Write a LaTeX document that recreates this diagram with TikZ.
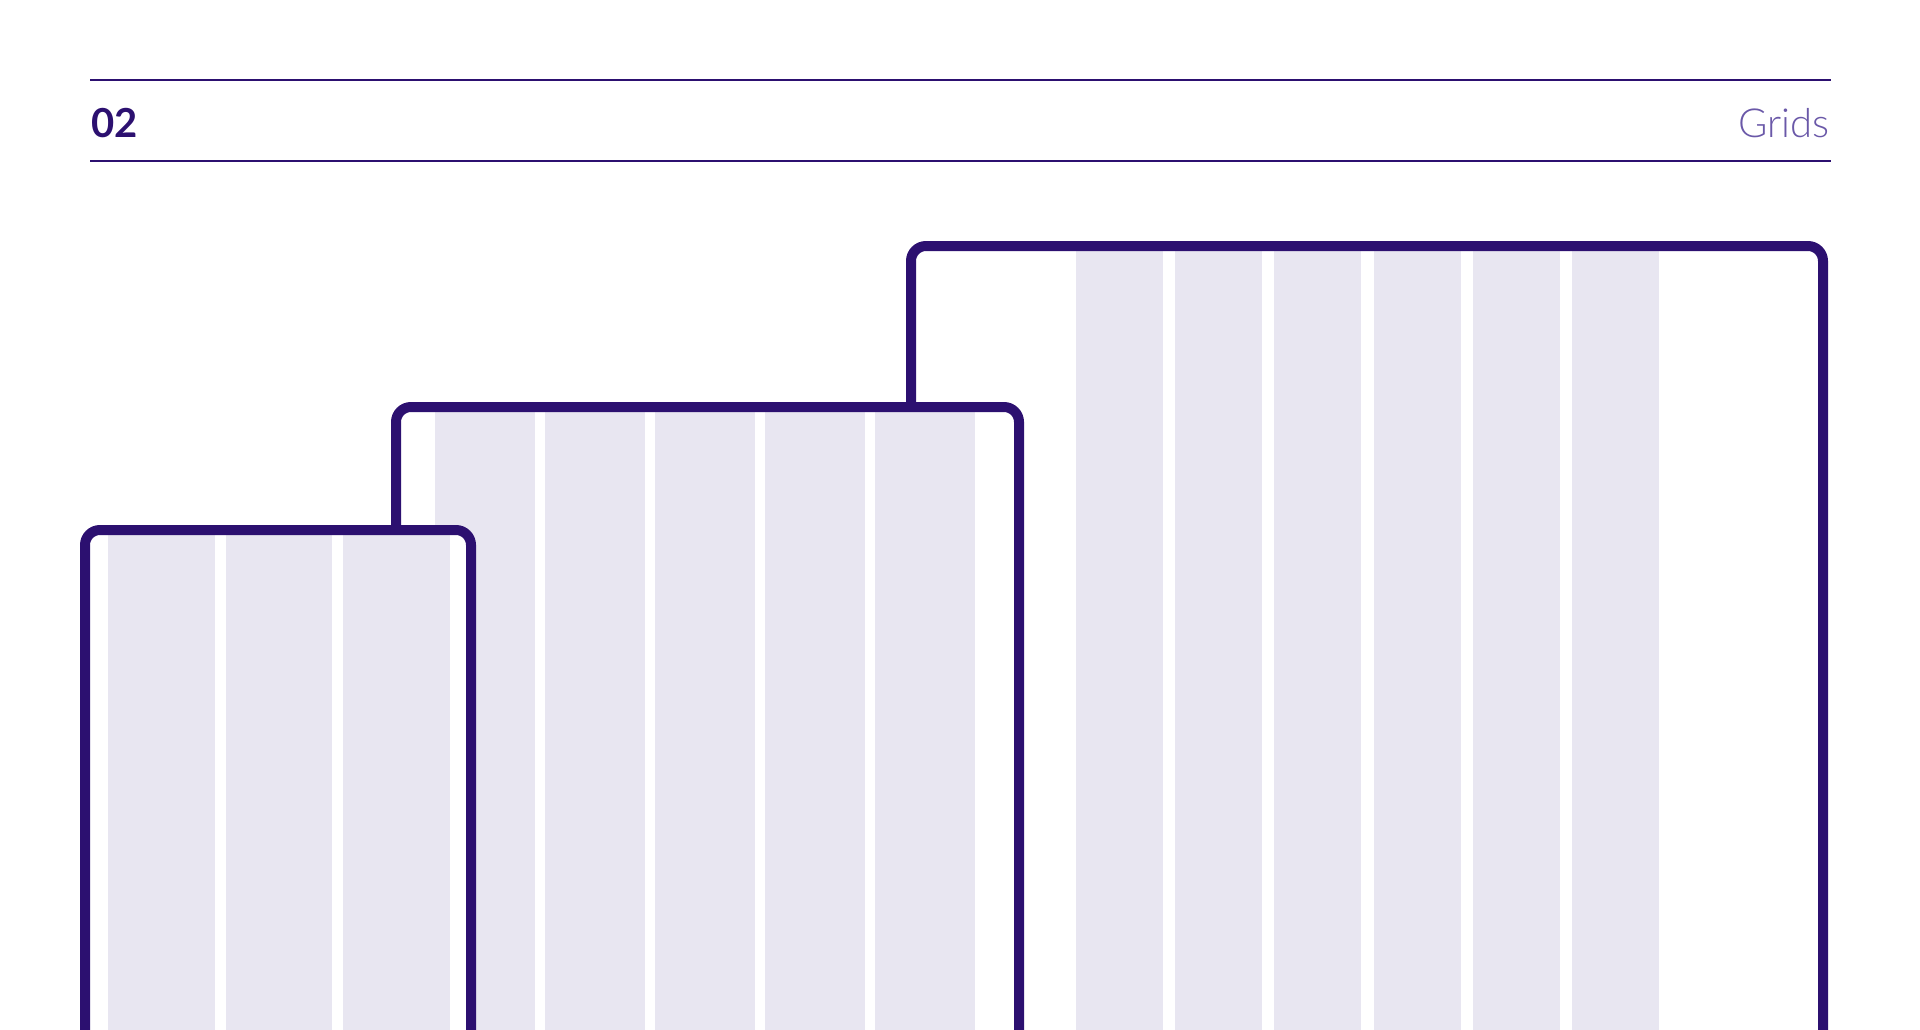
\documentclass[tikz,border=0pt]{standalone}
\usepackage{fontspec}
\setmainfont{Lato}
\newfontfamily\lightfont{Lato Light}
\definecolor{ink}{RGB}{44,16,112}
\definecolor{colfill}{RGB}{232,230,241}
\definecolor{soft}{RGB}{106,88,168}
\begin{document}
\begin{tikzpicture}[x=1pt,y=-1pt,
  frame/.style={line width=10pt, draw=ink, rounded corners=15pt},
  paper/.style={fill=white, rounded corners=15pt},
  colbar/.style={fill=colfill},
  rule/.style={draw=ink, line width=1.3pt}]
\useasboundingbox (0,0) rectangle (1920,1029);
\clip (0,0) rectangle (1920,1029);
% header
\coordinate (r1a) at (90,80);
\coordinate (r1b) at (1831,80);
\coordinate (r2a) at (90,161);
\coordinate (r2b) at (1831,161);
\draw[rule] (r1a) -- (r1b);
\draw[rule] (r2a) -- (r2b);
\node[anchor=base west, inner sep=0, text=ink, font=\bfseries\fontsize{40}{40}\selectfont] (num) at (91,137) {02};
\node[anchor=base east, inner sep=0, text=soft, font=\lightfont\fontsize{40}{40}\selectfont] (title) at (1830,137) {Grids};
% large frame
\fill[paper] (911,246) rectangle (1823,1100);
\foreach \i in {0,...,5} \fill[colbar] ({1076+99.2*\i},246) rectangle ++(87,900);
\draw[frame] (911,246) rectangle (1823,1100);
% medium frame
\fill[paper] (396,407) rectangle (1019,1100);
\foreach \i in {0,...,4} \fill[colbar] ({435+110*\i},407) rectangle ++(100,900);
\draw[frame] (396,407) rectangle (1019,1100);
% small frame
\fill[paper] (85,530) rectangle (471,1100);
\foreach \i in {0,...,2} \fill[colbar] ({108.3+117.3*\i},530) rectangle ++(106.7,900);
\draw[frame] (85,530) rectangle (471,1100);
\end{tikzpicture}
\end{document}
